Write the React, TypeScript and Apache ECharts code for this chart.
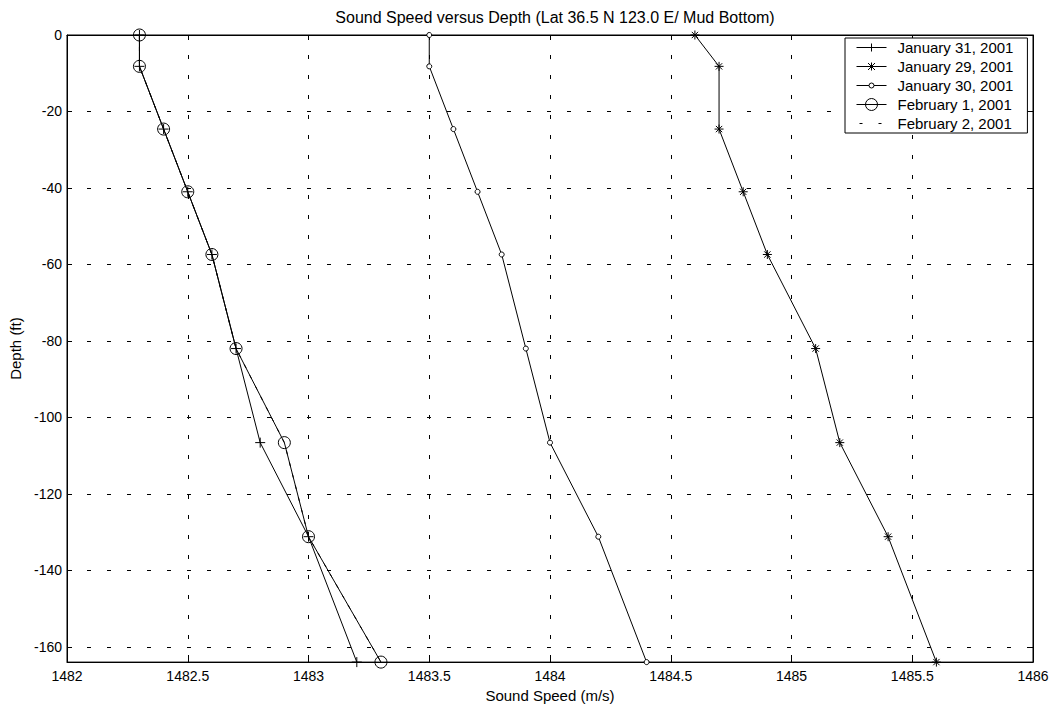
import React, { useEffect, useRef } from "react";
import * as echarts from "echarts";

const titleText = "Sound Speed versus Depth (Lat 36.5 N 123.0 E/ Mud Bottom)";
const xName = "Sound Speed (m/s)";
const yName = "Depth (ft)";
const depths = [0, -8.2, -24.6, -41, -57.4, -82, -106.6, -131.2, -164];
const jan31 = [1482.3, 1482.3, 1482.4, 1482.5, 1482.6, 1482.7, 1482.8, 1483.0, 1483.2];
const jan29 = [1484.6, 1484.7, 1484.7, 1484.8, 1484.9, 1485.1, 1485.2, 1485.4, 1485.6];
const jan30 = [1483.5, 1483.5, 1483.6, 1483.7, 1483.8, 1483.9, 1484.0, 1484.2, 1484.4];
const feb1 = [1482.3, 1482.3, 1482.4, 1482.5, 1482.6, 1482.7, 1482.9, 1483.0, 1483.3];
const feb2 = [1482.3, 1482.3, 1482.4, 1482.5, 1482.6, 1482.7, 1482.9, 1483.0, 1483.3];
const seriesNames = ["January 31, 2001", "January 29, 2001", "January 30, 2001", "February 1, 2001", "February 2, 2001"];

const PLUS = "path://M5,0 L5,10 M0,5 L10,5";
const STAR = "path://M5,0 L5,10 M0,5 L10,5 M1.5,1.5 L8.5,8.5 M8.5,1.5 L1.5,8.5";

// legend icons in a 37x14 box (anchors M0,0 and M37,14 fix the box)
const ANCH = "M0,0 M37,14 ";
const LEG_ICONS = [
  "path://" + ANCH + "M1,7 L31,7 M16,3 L16,11",
  "path://" + ANCH + "M1,7 L31,7 M16,3 L16,11 M12.5,3.5 L19.5,10.5 M19.5,3.5 L12.5,10.5",
  "path://" + ANCH + "M1,7 L13.5,7 M18.5,7 L31,7 M13.5,7 A2.5,2.5 0 1,0 18.5,7 A2.5,2.5 0 1,0 13.5,7",
  "path://" + ANCH + "M1,7 L31,7 M10,7 A6,6 0 1,0 22,7 A6,6 0 1,0 10,7",
  "path://" + ANCH + "M4,7 L7,7 M23,7 L26,7",
];

const pairs = (xs: number[]) => xs.map((x, i) => [x, depths[i]]);
const FONT = "Liberation Sans";

export default function App() {
  const ref = useRef<HTMLDivElement>(null);
  useEffect(() => {
    document.body.style.margin = "0";
    const chart = echarts.init(ref.current!, null, { renderer: "svg" });
    const base = { type: "line", showAllSymbol: true, lineStyle: { color: "#000", width: 1 }, emphasis: { disabled: true } };
    const hollow = { color: "none", borderColor: "#000", borderWidth: 1 };
    const axisCommon = {
      axisLine: { show: true, onZero: false, lineStyle: { color: "#000" } },
      axisTick: { inside: true, length: 5, lineStyle: { color: "#000" } },
    };
    const labelStyle = { fontFamily: FONT, fontSize: 14, color: "#000" };
    const nameStyle = { fontFamily: FONT, fontSize: 15, color: "#000" };
    const grid = { show: true, lineStyle: { color: "#000", type: [4, 16], width: 1 } };
    chart.setOption({
      animation: false,
      backgroundColor: "#fff",
      title: {
        text: titleText, left: 550, top: 4, textAlign: "center",
        textStyle: { fontFamily: FONT, fontSize: 16, fontWeight: "normal", color: "#000" },
      },
      legend: {
        orient: "vertical", left: 845, top: 38,
        data: seriesNames.map((n, i) => ({
          name: n, icon: LEG_ICONS[i],
          itemStyle: { color: "none", borderColor: "#000", borderWidth: 1 },
        })),
        symbolKeepAspect: false,
        backgroundColor: "#fff", borderColor: "#000", borderWidth: 1,
        padding: [0, 14, 0, 8], itemGap: 0, itemWidth: 37, itemHeight: 14,
        textStyle: { fontFamily: FONT, fontSize: 15, color: "#000" },
      },
      grid: { left: 67, right: 21, top: 35, bottom: 45, show: true, borderColor: "#000", borderWidth: 1, backgroundColor: "transparent" },
      xAxis: [
        {
          type: "value", min: 1482, max: 1486, interval: 0.5, position: "bottom",
          name: xName, nameLocation: "middle", nameGap: 24, nameTextStyle: nameStyle,
          ...axisCommon,
          axisLabel: { ...labelStyle, margin: 7, formatter: (v: number) => String(v) },
          splitLine: grid,
        },
        {
          type: "value", min: 1482, max: 1486, interval: 0.5, position: "top",
          ...axisCommon, axisLabel: { show: false }, splitLine: { show: false },
        },
      ],
      yAxis: [
        {
          type: "value", min: -164, max: 0, splitNumber: 8, position: "left",
          name: yName, nameLocation: "middle", nameGap: 41, nameTextStyle: nameStyle,
          ...axisCommon,
          axisLabel: { ...labelStyle, margin: 5, showMinLabel: false, formatter: (v: number) => (v === -164 ? "" : String(v)) },
          splitLine: grid,
        },
        {
          type: "value", min: -164, max: 0, splitNumber: 8, position: "right",
          ...axisCommon, axisLabel: { show: false }, splitLine: { show: false },
        },
      ],
      series: [
        { ...base, name: seriesNames[0], data: pairs(jan31), symbol: PLUS, symbolSize: 10, itemStyle: hollow },
        { ...base, name: seriesNames[1], data: pairs(jan29), symbol: STAR, symbolSize: 9, itemStyle: hollow },
        { ...base, name: seriesNames[2], data: pairs(jan30), symbol: "circle", symbolSize: 5, itemStyle: { color: "#fff", borderColor: "#000", borderWidth: 1 } },
        { ...base, name: seriesNames[3], data: pairs(feb1), symbol: "circle", symbolSize: 12, itemStyle: hollow },
        { ...base, name: seriesNames[4], data: pairs(feb2), symbol: "none", itemStyle: { color: "#000" }, lineStyle: { color: "#000", width: 1, type: [4, 8] } },
      ],
    });
    return () => chart.dispose();
  }, []);
  return <div ref={ref} style={{ width: 1054, height: 708 }} />;
}
